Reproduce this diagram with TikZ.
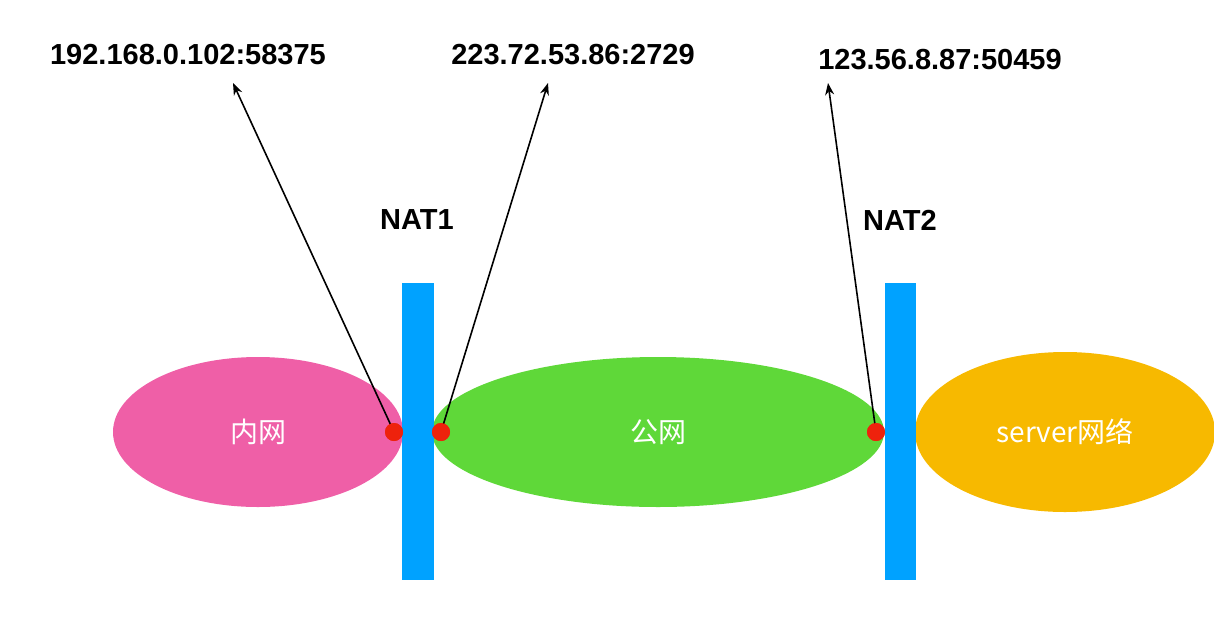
\documentclass[tikz,border=0pt]{standalone}
\usepackage{fontspec}
\setmainfont{Liberation Sans}
\newfontfamily\cjk{Noto Sans CJK SC}
\usetikzlibrary{arrows.meta}
\definecolor{pinkc}{HTML}{EF5FA7}
\definecolor{greenc}{HTML}{5FD839}
\definecolor{orangec}{HTML}{F7B900}
\definecolor{bluec}{HTML}{00A2FF}
\definecolor{redc}{HTML}{EE220C}
\begin{document}
\begin{tikzpicture}[x=1pt,y=-1pt,
  addr/.style={font=\fontsize{29}{32}\selectfont\bfseries, text=black},
  inlabel/.style={font=\fontsize{28}{32}\selectfont\cjk, text=white},
  bar/.style={fill=bluec, draw=none},
  dot/.style={circle, fill=redc, draw=none, minimum size=18pt, inner sep=0},
  conn/.style={-{Stealth[length=12pt,width=9pt]}, line width=1.6pt}]
\useasboundingbox (0,0) rectangle (1214,624);
\fill[pinkc] (258,432) ellipse [x radius=145, y radius=75];
\fill[greenc] (658,432) ellipse [x radius=226, y radius=75];
\fill[orangec] (1065,432) ellipse [x radius=150, y radius=80];
\node[inlabel] (n1) at (258,432) {内网};
\node[inlabel] (n2) at (658,432) {公网};
\node[inlabel] (n3) at (1065,432) {server网络};
\fill[bar] (402,283) rectangle (434,580);
\fill[bar] (885,283) rectangle (916,580);
\node[dot] (d1) at (394,432) {};
\node[dot] (d2) at (441,432) {};
\node[dot] (d3) at (876,432) {};
\node[addr] (a1) at (188,55) {192.168.0.102:58375};
\node[addr] (a2) at (573,55) {223.72.53.86:2729};
\node[addr] (a3) at (940,60) {123.56.8.87:50459};
\node[addr] (nat1) at (417,220) {NAT1};
\node[addr] (nat2) at (900,220) {NAT2};
\coordinate (t1) at (233,83);
\coordinate (t2) at (548,83);
\coordinate (t3) at (828,83);
\draw[conn] (d1.center) -- (t1);
\draw[conn] (d2.center) -- (t2);
\draw[conn] (d3.center) -- (t3);
\node[dot] at (d1) {};
\node[dot] at (d2) {};
\node[dot] at (d3) {};
\end{tikzpicture}
\end{document}
